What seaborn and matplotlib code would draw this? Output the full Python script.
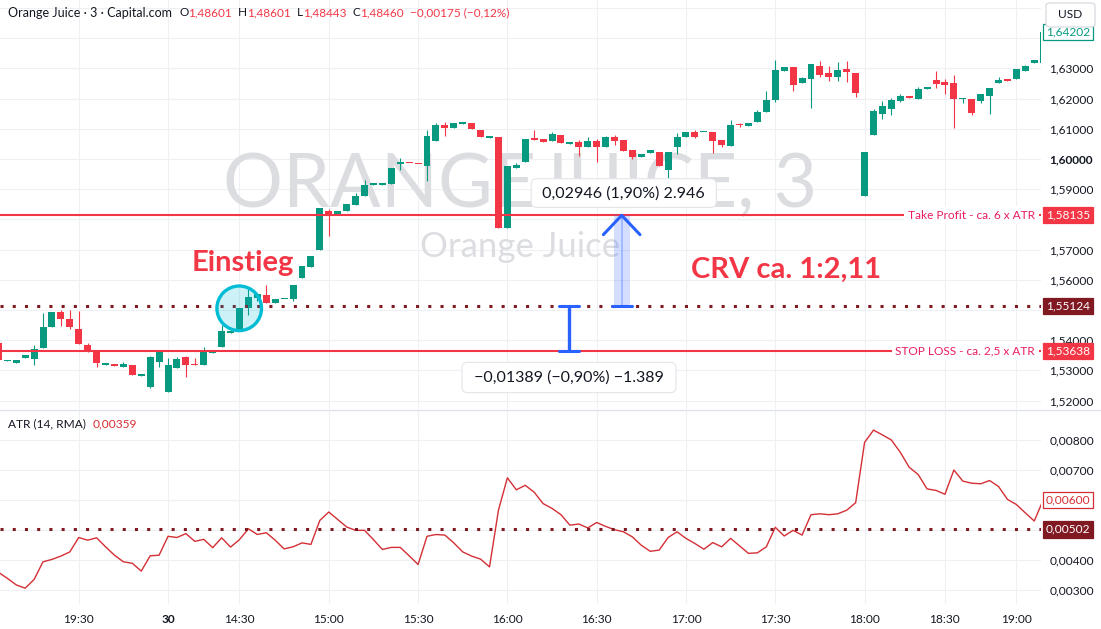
import numpy as np
import pandas as pd
import matplotlib
matplotlib.use("Agg")
import matplotlib.pyplot as plt
import seaborn as sns
from matplotlib.transforms import blended_transform_factory
from matplotlib.patches import Ellipse, Rectangle, FancyBboxPatch
from matplotlib.lines import Line2D

# ---------------- data (3-minute candles, Orange Juice CFD) ----------------
opens = [1.53907, 1.53295, 1.53255, 1.53421, 1.53388, 1.53752, 1.54447, 1.54934, 1.54702, 1.54371,
         1.53831, 1.53676, 1.53189, 1.53179, 1.53123, 1.53179, 1.52825, 1.52460, 1.53288, 1.52295,
         1.53090, 1.53454, 1.53212, 1.53179, 1.53566, 1.53785, 1.54248, 1.54361, 1.55076, 1.55407,
         1.55487, 1.55242, 1.55348, 1.55354, 1.56070, 1.56434, 1.56987, 1.58278, 1.58189, 1.58278,
         1.58487, 1.58775, 1.59149, 1.59149, 1.59162, 1.59845, 1.59878, 1.59845, 1.59778, 1.60606,
         1.61126, 1.61017, 1.61169, 1.61182, 1.60960, 1.60705, 1.60739, 1.57705, 1.59712, 1.59911,
         1.60672, 1.60652, 1.60606, 1.60795, 1.60507, 1.60563, 1.60387, 1.60596, 1.60407, 1.60719,
         1.60619, 1.60288, 1.60076, 1.60189, 1.60232, 1.59646, 1.60387, 1.60739, 1.60894, 1.60884,
         1.60894, 1.60629, 1.60441, 1.61136, 1.61103, 1.61235, 1.61566, 1.61954, 1.62924, 1.63037,
         1.62527, 1.62649, 1.63090, 1.62838, 1.62705, 1.62970, 1.62858, 1.58785, 1.60795, 1.61490,
         1.61666, 1.61921, 1.62053, 1.61997, 1.62328, 1.62616, 1.62550, 1.62517, 1.61987, 1.61987,
         1.61931, 1.62096, 1.62507, 1.62616, 1.62649, 1.62924, 1.63169, 1.63179]
highs = [1.53974, 1.53345, 1.53345, 1.53500, 1.53831, 1.54891, 1.54934, 1.55000, 1.55000, 1.54977,
         1.53907, 1.53676, 1.53245, 1.53179, 1.53278, 1.53179, 1.52848, 1.53477, 1.53609, 1.53421,
         1.53444, 1.53487, 1.53401, 1.53775, 1.53599, 1.54494, 1.54282, 1.55056, 1.55772, 1.55530,
         1.55828, 1.55354, 1.55374, 1.55828, 1.56457, 1.56788, 1.58388, 1.58335, 1.58278, 1.58500,
         1.58884, 1.59305, 1.59172, 1.59172, 1.59702, 1.60023, 1.59878, 1.59845, 1.60960, 1.61182,
         1.61215, 1.61182, 1.61192, 1.61182, 1.60960, 1.60729, 1.60739, 1.59768, 1.59878, 1.60662,
         1.60960, 1.60652, 1.60884, 1.60795, 1.60553, 1.60629, 1.60719, 1.60652, 1.60772, 1.60805,
         1.60619, 1.60288, 1.60166, 1.60298, 1.60232, 1.60222, 1.60871, 1.60894, 1.60960, 1.60904,
         1.60894, 1.60629, 1.61292, 1.61182, 1.61202, 1.61623, 1.62262, 1.63278, 1.63037, 1.63037,
         1.62725, 1.63146, 1.63255, 1.63080, 1.63202, 1.63255, 1.62858, 1.60222, 1.61656, 1.61921,
         1.62030, 1.62152, 1.62086, 1.62384, 1.62351, 1.62914, 1.62659, 1.62782, 1.62020, 1.61987,
         1.62152, 1.62351, 1.62705, 1.62616, 1.62980, 1.63113, 1.63278, 1.64202]
lows = [1.53278, 1.53295, 1.53255, 1.53421, 1.53189, 1.53752, 1.54447, 1.54480, 1.54361, 1.53884,
        1.53609, 1.53123, 1.53169, 1.53156, 1.53123, 1.52858, 1.52825, 1.52427, 1.53123, 1.52295,
        1.53070, 1.52792, 1.53179, 1.53179, 1.53566, 1.53785, 1.54248, 1.54361, 1.54845, 1.55308,
        1.55242, 1.55242, 1.55348, 1.55298, 1.56070, 1.56434, 1.56987, 1.57450, 1.58189, 1.58278,
        1.58487, 1.58775, 1.59149, 1.59149, 1.59162, 1.59626, 1.59858, 1.59825, 1.59282, 1.60606,
        1.60772, 1.61017, 1.61169, 1.60984, 1.60719, 1.60705, 1.57705, 1.57705, 1.59712, 1.59911,
        1.60639, 1.60553, 1.60606, 1.60520, 1.60507, 1.60109, 1.60387, 1.59911, 1.60407, 1.60454,
        1.60275, 1.60000, 1.60076, 1.60189, 1.59778, 1.59272, 1.60156, 1.60739, 1.60686, 1.60884,
        1.60189, 1.60387, 1.60441, 1.61050, 1.61103, 1.61235, 1.61566, 1.61898, 1.62924, 1.62252,
        1.62527, 1.61699, 1.62705, 1.62593, 1.62593, 1.62560, 1.62043, 1.58785, 1.60795, 1.61335,
        1.61467, 1.61888, 1.62030, 1.61997, 1.62328, 1.62361, 1.62162, 1.61037, 1.61845, 1.61457,
        1.61864, 1.61490, 1.62507, 1.62593, 1.62649, 1.62924, 1.63169, 1.63056]
closes = [1.53344, 1.53345, 1.53345, 1.53500, 1.53709, 1.54427, 1.54934, 1.54712, 1.54447, 1.53884,
          1.53652, 1.53235, 1.53212, 1.53156, 1.53212, 1.52858, 1.52848, 1.53444, 1.53609, 1.53179,
          1.53378, 1.53179, 1.53179, 1.53643, 1.53599, 1.54305, 1.54282, 1.55056, 1.55431, 1.55530,
          1.55242, 1.55354, 1.55374, 1.55828, 1.56457, 1.56788, 1.58388, 1.58189, 1.58278, 1.58500,
          1.58775, 1.59139, 1.59172, 1.59172, 1.59702, 1.59868, 1.59858, 1.59825, 1.60762, 1.61126,
          1.61017, 1.61182, 1.61192, 1.60984, 1.60719, 1.60729, 1.57705, 1.59768, 1.59801, 1.60662,
          1.60639, 1.60553, 1.60818, 1.60520, 1.60553, 1.60387, 1.60586, 1.60407, 1.60729, 1.60606,
          1.60275, 1.60076, 1.60166, 1.60298, 1.59778, 1.60222, 1.60719, 1.60894, 1.60719, 1.60904,
          1.60596, 1.60464, 1.61126, 1.61116, 1.61202, 1.61547, 1.61954, 1.62947, 1.63037, 1.62450,
          1.62692, 1.63146, 1.62792, 1.62705, 1.62947, 1.62891, 1.62176, 1.60222, 1.61590, 1.61755,
          1.61954, 1.62086, 1.62030, 1.62318, 1.62351, 1.62494, 1.62460, 1.61987, 1.62020, 1.61533,
          1.62152, 1.62351, 1.62616, 1.62593, 1.62980, 1.63080, 1.63278, 1.64202]
atr = [0.00359, 0.00339, 0.00317, 0.00306, 0.00335, 0.00394, 0.00402, 0.00413, 0.00427, 0.00475,
       0.00466, 0.00474, 0.00444, 0.00416, 0.00394, 0.00389, 0.00363, 0.00414, 0.00416, 0.00479,
       0.00475, 0.00488, 0.00462, 0.00469, 0.00441, 0.00474, 0.00443, 0.00468, 0.00504, 0.00485,
       0.00491, 0.00466, 0.00437, 0.00444, 0.00457, 0.00452, 0.00532, 0.00560, 0.00535, 0.00510,
       0.00499, 0.00499, 0.00468, 0.00435, 0.00442, 0.00442, 0.00414, 0.00385, 0.00479, 0.00485,
       0.00483, 0.00457, 0.00427, 0.00413, 0.00403, 0.00377, 0.00566, 0.00674, 0.00634, 0.00649,
       0.00626, 0.00588, 0.00572, 0.00551, 0.00516, 0.00520, 0.00507, 0.00525, 0.00512, 0.00501,
       0.00494, 0.00477, 0.00449, 0.00429, 0.00433, 0.00475, 0.00494, 0.00472, 0.00455, 0.00436,
       0.00458, 0.00444, 0.00472, 0.00447, 0.00422, 0.00424, 0.00444, 0.00509, 0.00480, 0.00499,
       0.00483, 0.00551, 0.00554, 0.00551, 0.00554, 0.00566, 0.00591, 0.00792, 0.00833, 0.00817,
       0.00800, 0.00759, 0.00709, 0.00685, 0.00637, 0.00632, 0.00619, 0.00700, 0.00663, 0.00656,
       0.00654, 0.00665, 0.00645, 0.00602, 0.00585, 0.00557, 0.00530, 0.00600]

time_ticks = [9, 19, 27, 37, 47, 57, 67, 77, 87, 97, 106, 114]
time_labels = ["19:30", "30", "14:30", "15:00", "15:30", "16:00", "16:30", "17:00", "17:30", "18:00", "18:30", "19:00"]
price_grid = [1.52, 1.53, 1.54, 1.55, 1.56, 1.57, 1.58, 1.59, 1.60, 1.61, 1.62, 1.63, 1.64, 1.65]
price_hidden = [1.55, 1.58, 1.64, 1.65]
atr_grid = [0.003, 0.004, 0.005, 0.006, 0.007, 0.008]
atr_hidden = [0.005, 0.006]

entry_price = 1.55124
take_profit = 1.58135
stop_loss = 1.53638
atr_level = 0.00502
last_price = 1.64202
atr_last = 0.00600
entry_bar, entry_mark_price = 26.97, 1.55056
up_tool_bar, down_tool_bar = 69.8, 63.9

# ---------------- style ----------------
sns.set_theme(style="white")
plt.rcParams['font.family'] = ['Lato', 'DejaVu Sans']

GREEN = '#089981'; RED = '#f23645'; DARKRED = '#801922'; BLUE = '#2962ff'
TXT = '#131722'; GRID = '#eef0f4'; PINK = '#e91e63'; ATRC = '#d32f35'
W, H = 1101, 629
PW = 1041
fig = plt.figure(figsize=(W / 100, H / 100), dpi=100)
fig.patch.set_facecolor('white')
ax = fig.add_axes([0, 1 - 409 / H, PW / W, 409 / H])
ax2 = fig.add_axes([0, 1 - 604 / H, PW / W, 194 / H])

df = pd.DataFrame({'i': np.arange(len(opens)), 'open': opens, 'high': highs,
                   'low': lows, 'close': closes, 'atr': atr})
colors = np.where(df['close'] >= df['open'], GREEN, RED)

xlim = (0.1825, 0.1825 + PW / 8.93)
for a in (ax, ax2):
    a.set_xlim(*xlim)
    for s in a.spines.values():
        s.set_visible(False)
    a.set_facecolor('white')
ax.set_ylim(1.65265 - 409 / 3020, 1.65265)
ax2.set_ylim(0.008 - 164 / 30000, 0.009)

# grid + ticks
fmt = lambda v: f"{v:.5f}".replace('.', ',')
ax.set_yticks(price_grid)
ax.set_yticklabels(['' if v in price_hidden else fmt(v) for v in price_grid])
ax.yaxis.tick_right()
ax.tick_params(axis='y', length=0, pad=6, labelsize=8.6, labelcolor=TXT)
for lab, v in zip(ax.get_yticklabels(), price_grid):
    if abs(v - 1.60) < 1e-9:
        lab.set_fontweight('bold')
ax.set_xticks(time_ticks)
ax.tick_params(axis='x', length=0, labelbottom=False)
ax.grid(True, color=GRID, lw=0.8, zorder=0)
ax.set_axisbelow(True)

ax2.set_yticks(atr_grid)
ax2.set_yticklabels(['' if v in atr_hidden else fmt(v) for v in atr_grid])
ax2.yaxis.tick_right()
ax2.tick_params(axis='y', length=0, pad=6, labelsize=8.6, labelcolor=TXT)
ax2.set_xticks(time_ticks)
ax2.set_xticklabels(time_labels)
ax2.tick_params(axis='x', length=0, pad=7, labelsize=8.6, labelcolor=TXT)
ax2.get_xticklabels()[1].set_fontweight('bold')
ax2.grid(True, color=GRID, lw=0.8, zorder=0)
ax2.set_axisbelow(True)

# watermark
ax.text(0.5, (409 - 207) / 409, 'ORANGEJUICE, 3', transform=ax.transAxes, ha='center',
        va='baseline', fontsize=54, color='#dcdde0', zorder=1)
ax.text(0.5, (409 - 257) / 409, 'Orange Juice', transform=ax.transAxes, ha='center',
        va='baseline', fontsize=25, color='#dcdde0', zorder=1)

# candles
ax.vlines(df['i'], df['low'], df['high'], colors=colors, lw=0.8, zorder=3)
body_h = np.maximum((df['close'] - df['open']).abs(), 0.00045)
ax.bar(df['i'], body_h, bottom=np.minimum(df['open'], df['close']), width=0.78,
       color=colors, lw=0, zorder=4)

# ATR
sns.lineplot(data=df, x='i', y='atr', ax=ax2, color=ATRC, lw=1.0, legend=False, zorder=4)
ax2.set_xlabel(''); ax2.set_ylabel('')
ax2.set_xlim(*xlim)
ax2.set_ylim(0.008 - 164 / 30000, 0.009)

# levels
ax.axhline(take_profit, color=RED, lw=1.5, zorder=5)
ax.axhline(stop_loss, color=RED, lw=1.5, zorder=5)
ax.axhline(entry_price, color=DARKRED, lw=2.2, ls=(0, (1, 3)), dash_capstyle='butt', zorder=5)
ax2.axhline(atr_level, color=DARKRED, lw=2.2, ls=(0, (1, 3)), dash_capstyle='butt', zorder=5)

bt = blended_transform_factory(ax.transAxes, ax.transData)
bt2 = blended_transform_factory(ax2.transAxes, ax2.transData)
lx = 1035 / PW
ax.text(lx, take_profit, 'Take Profit - ca. 6 x ATR', transform=bt, ha='right', va='center',
        fontsize=8.6, color=PINK, zorder=6,
        bbox=dict(boxstyle='square,pad=0.3', fc='white', ec='none'))
ax.text(lx, stop_loss, 'STOP LOSS - ca. 2,5 x ATR', transform=bt, ha='right', va='center',
        fontsize=8.6, color=PINK, zorder=6,
        bbox=dict(boxstyle='square,pad=0.3', fc='white', ec='none'))

# price scale boxes
sx = 1068 / PW
def scale_box(axis, trans, val, txt, fc, tc, ec=None):
    axis.text(sx, val, txt, transform=trans, ha='center', va='center', fontsize=8.6,
              color=tc, zorder=10, clip_on=False,
              bbox=dict(boxstyle='square,pad=0.22', fc=fc, ec=ec if ec else fc, lw=0.9))

scale_box(ax, bt, take_profit, fmt(take_profit), RED, 'white')
scale_box(ax, bt, stop_loss, fmt(stop_loss), RED, 'white')
scale_box(ax, bt, entry_price, fmt(entry_price), DARKRED, 'white')
scale_box(ax, bt, last_price, fmt(last_price), 'white', GREEN, GREEN)
scale_box(ax2, bt2, atr_level, fmt(atr_level), DARKRED, 'white')
scale_box(ax2, bt2, atr_last, fmt(atr_last), 'white', ATRC, ATRC)

# USD box
fig.add_artist(FancyBboxPatch((1046 / W, 1 - 27 / H), 49 / W, 24 / H,
                              boxstyle='round,pad=0,rounding_size=0.004',
                              transform=fig.transFigure, fc='white', ec='#d1d4dc', lw=0.8))
fig.text(1070 / W, 1 - 15 / H, 'USD', ha='center', va='center', fontsize=8.6, color=TXT)

# pane separator
fig.add_artist(Line2D([0, 1], [1 - 409.5 / H] * 2, color='#e0e3eb', lw=1.0))

# entry circle
ax.add_patch(Ellipse((entry_bar, entry_mark_price), width=2 * 22.3 / 8.93, height=2 * 22.3 / 3020,
                     fc=(0.0, 0.737, 0.831, 0.2), ec='#00bcd4', lw=2.4, zorder=7))

# texts
ax.text(21.6, 1.65265 - 271 / 3020, 'Einstieg', fontsize=21, fontweight='bold', color=RED,
        ha='left', va='baseline', zorder=8)
ax.text(77.6, 1.65265 - 278 / 3020, 'CRV ca. 1:2,11', fontsize=21, fontweight='bold', color=RED,
        ha='left', va='baseline', zorder=8)

# measurement tools
ax.add_patch(Rectangle((up_tool_bar - 0.9, entry_price), 1.8, take_profit - entry_price,
                       fc=BLUE, alpha=0.2, lw=0, zorder=6))
ax.plot([up_tool_bar, up_tool_bar], [entry_price, take_profit], color=BLUE, lw=1.2, zorder=7, alpha=0.35)
ax.plot([up_tool_bar - 1.1, up_tool_bar + 1.1], [entry_price, entry_price], color=BLUE, lw=2.2, zorder=7)
ax.plot([up_tool_bar - 2.05, up_tool_bar, up_tool_bar + 2.05],
        [take_profit - 0.0064, take_profit, take_profit - 0.0064], color=BLUE, lw=2.2, zorder=7,
        solid_capstyle='round')
ax.plot([down_tool_bar, down_tool_bar], [entry_price, stop_loss], color=BLUE, lw=2.4, zorder=7)
ax.plot([down_tool_bar - 1.1, down_tool_bar + 1.1], [entry_price, entry_price], color=BLUE, lw=2.2, zorder=7)
ax.plot([down_tool_bar - 1.1, down_tool_bar + 1.1], [stop_loss, stop_loss], color=BLUE, lw=2.2, zorder=7)

ax.annotate(' 0,02946 (1,90%) 2.946 ', xy=(up_tool_bar, take_profit), xytext=(1.5, 16),
            textcoords='offset points', ha='center', va='center', fontsize=11.5, color=TXT, zorder=9,
            bbox=dict(boxstyle='round,pad=0.45,rounding_size=0.35', fc='white', ec='#e3e5ea', lw=0.8))
ax.annotate(' \u22120,01389 (\u22120,90%) \u22121.389 ', xy=(down_tool_bar, stop_loss), xytext=(0, -19),
            textcoords='offset points', ha='center', va='center', fontsize=11.5, color=TXT, zorder=9,
            bbox=dict(boxstyle='round,pad=0.5,rounding_size=0.35', fc='white', ec='#e3e5ea', lw=0.8))

# header
prev = fig.text(8 / W, 1 - 13 / H, 'Orange Juice \u00b7 3 \u00b7 Capital.com', fontsize=9.0,
                color=TXT, va='center', ha='left')
pieces = [('O', TXT, 7), ('1,48601', RED, 0), ('H', TXT, 6), ('1,48601', RED, 0),
          ('L', TXT, 6), ('1,48443', RED, 0), ('C', TXT, 6), ('1,48460', RED, 0),
          ('\u22120,00175 (\u22120,12%)', RED, 6)]
for s, c, gap in pieces:
    prev = ax.annotate(s, xy=(1, 0.5), xycoords=prev, xytext=(gap, 0), textcoords='offset pixels',
                       ha='left', va='center', fontsize=8.5, color=c, annotation_clip=False)

p2 = fig.text(8 / W, 1 - 424 / H, 'ATR (14, RMA)', fontsize=8.6, color=TXT, va='center', ha='left')
ax2.annotate('0,00359', xy=(1, 0.5), xycoords=p2, xytext=(7, 0), textcoords='offset pixels',
             ha='left', va='center', fontsize=8.6, color=ATRC, annotation_clip=False)

fig.savefig('out.png', dpi=100, facecolor='white')
